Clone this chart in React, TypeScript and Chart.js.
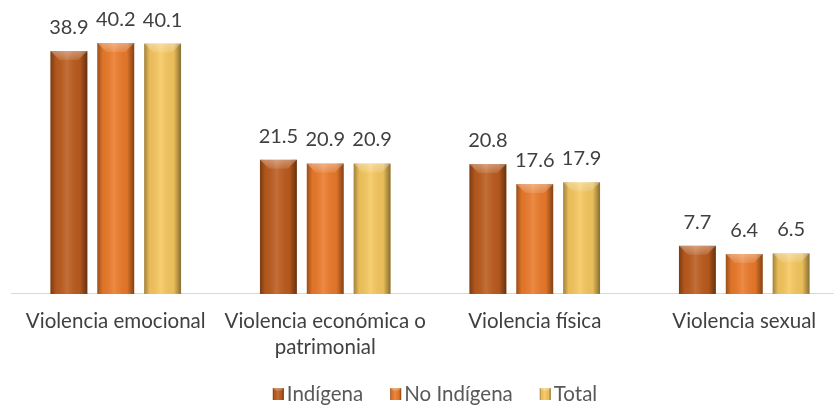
import React, { useEffect, useRef } from "react";
import { Chart, registerables } from "chart.js";

Chart.register(...registerables);

const categories: (string | string[])[] = [
  "Violencia emocional",
  ["Violencia económica o", "patrimonial"],
  "Violencia física",
  "Violencia sexual",
];
const seriesNames = ["Indígena", "No Indígena", "Total"];
const indigena = [38.9, 21.5, 20.8, 7.7];
const noIndigena = [40.2, 20.9, 17.6, 6.4];
const total = [40.1, 20.9, 17.9, 6.5];
const colors = ["#BC5B1D", "#EC7A2A", "#F6C75E"];

const FONT = "Lato, 'Open Sans', sans-serif";
const TEXT = "#404040";

const shade = (ctx: CanvasRenderingContext2D, l: number, y: number, width: number, h: number, bevel: number) => {
  const r = l + width;
  const g = ctx.createLinearGradient(l, 0, r, 0);
  g.addColorStop(0, "rgba(0,0,0,0.35)");
  g.addColorStop(0.15, "rgba(0,0,0,0.05)");
  g.addColorStop(0.45, "rgba(255,255,255,0.12)");
  g.addColorStop(0.8, "rgba(0,0,0,0.05)");
  g.addColorStop(1, "rgba(0,0,0,0.45)");
  ctx.fillStyle = g;
  ctx.fillRect(l, y, width, h);
  const bv = Math.min(bevel, h / 2);
  ctx.beginPath();
  ctx.moveTo(l, y);
  ctx.lineTo(r, y);
  ctx.lineTo(r - bv, y + bv);
  ctx.lineTo(l + bv, y + bv);
  ctx.closePath();
  const g2 = ctx.createLinearGradient(0, y, 0, y + bv);
  g2.addColorStop(0, "rgba(255,255,255,0.35)");
  g2.addColorStop(1, "rgba(255,255,255,0.1)");
  ctx.fillStyle = g2;
  ctx.fill();
};

const bevelPlugin = {
  id: "bevel",
  afterDatasetsDraw(chart: any) {
    const ctx = chart.ctx as CanvasRenderingContext2D;
    chart.data.datasets.forEach((ds: any, di: number) => {
      const meta = chart.getDatasetMeta(di);
      meta.data.forEach((bar: any, i: number) => {
        const { x, y, base, width } = bar.getProps(["x", "y", "base", "width"], true);
        ctx.save();
        shade(ctx, x - width / 2, y, width, base - y, 9);
        ctx.restore();
        ctx.save();
        ctx.fillStyle = TEXT;
        ctx.font = `20px ${FONT}`;
        ctx.textAlign = "center";
        ctx.textBaseline = "alphabetic";
        ctx.fillText(ds.data[i].toFixed(1), x, y - 17);
        ctx.restore();
      });
    });
  },
  afterDraw(chart: any) {
    const ctx = chart.ctx as CanvasRenderingContext2D;
    ctx.save();
    ctx.font = `20.5px ${FONT}`;
    const boxW = 11;
    const boxH = 12;
    const gap = 3;
    const spacing = 27;
    const items = chart.data.datasets.map((ds: any) => ({
      label: ds.label as string,
      color: ds.backgroundColor as string,
      tw: ctx.measureText(ds.label).width,
    }));
    const totalW =
      items.reduce((s: number, it: any) => s + boxW + gap + it.tw, 0) + spacing * (items.length - 1);
    let x = 435 - totalW / 2;
    const cy = 394;
    items.forEach((it: any) => {
      ctx.fillStyle = it.color;
      ctx.fillRect(x, cy - boxH / 2, boxW, boxH);
      shade(ctx, x, cy - boxH / 2, boxW, boxH, 3);
      ctx.fillStyle = "#595959";
      ctx.textAlign = "left";
      ctx.textBaseline = "middle";
      ctx.fillText(it.label, x + boxW + gap, cy);
      x += boxW + gap + it.tw + spacing;
    });
    ctx.restore();
  },
};

export default function App() {
  const ref = useRef<HTMLCanvasElement>(null);
  useEffect(() => {
    if (!ref.current) return;
    const mk = (label: string, data: number[], c: string) => ({
      label,
      data,
      backgroundColor: c,
      borderWidth: 0,
      categoryPercentage: 0.671,
      barPercentage: 0.787,
    });
    const chart = new Chart(ref.current, {
      type: "bar",
      data: {
        labels: categories,
        datasets: [
          mk(seriesNames[0], indigena, colors[0]),
          mk(seriesNames[1], noIndigena, colors[1]),
          mk(seriesNames[2], total, colors[2]),
        ],
      },
      options: {
        animation: false,
        responsive: false,
        layout: { padding: { left: 11, right: 11, top: 13, bottom: 32 } },
        scales: {
          x: {
            grid: { display: false, drawTicks: false },
            border: { display: true, color: "#D9D9D9", width: 1 },
            ticks: {
              color: TEXT,
              font: { family: FONT, size: 20.5, lineHeight: 1.27 },
              padding: 14,
              maxRotation: 0,
              autoSkip: false,
            },
          },
          y: {
            display: false,
            min: 0,
            max: 45,
          },
        },
        plugins: {
          legend: { display: false },
          tooltip: { enabled: false },
        },
      },
      plugins: [bevelPlugin],
    });
    return () => chart.destroy();
  }, []);
  return (
    <div
      style={{
        position: "absolute",
        left: 0,
        top: 0,
        width: 834,
        height: 406,
        overflow: "hidden",
        background: "#fff",
      }}
    >
      <canvas ref={ref} width={860} height={406} style={{ width: 860, height: 406 }} />
    </div>
  );
}
